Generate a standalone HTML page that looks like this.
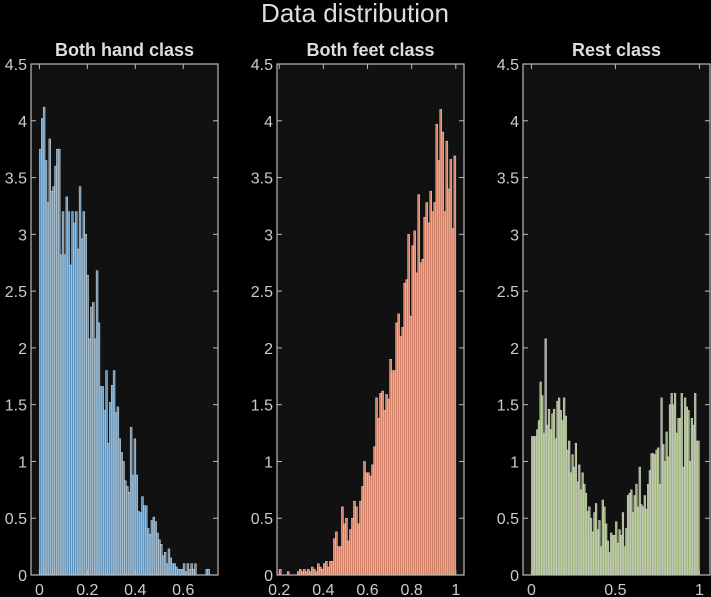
<!DOCTYPE html>
<html><head><meta charset="utf-8"><style>
html,body{margin:0;padding:0;background:#000;overflow:hidden;width:711px;height:597px;}
svg{display:block;}
svg text{font-family:"Liberation Sans",sans-serif;}
</style></head><body>
<svg id="chart" width="711" height="597" xmlns="http://www.w3.org/2000/svg">
<rect width="711" height="597" fill="#000"/>
<text x="355" y="22" text-anchor="middle" font-size="26" fill="#ddd">Data distribution</text>
</svg>
<script>
const titles = ["Both hand class","Both feet class","Rest class"];
const handValues = [3.75,4.02,4.12,3.65,3.28,3.84,3.38,3.42,3.6,3.75,3.75,2.82,3.2,2.82,3.33,3.2,2.73,3.2,3.1,3.2,2.87,3.42,2.96,3.2,3.0,2.64,2.08,2.36,2.4,2.08,2.68,2.22,1.66,1.66,1.45,1.8,1.16,1.52,1.67,1.8,1.43,1.48,1.2,1.08,1.0,0.83,0.78,0.73,1.3,0.88,1.2,0.88,0.56,0.55,0.69,0.61,0.61,0.41,0.36,0.48,0.51,0.47,0.37,0.31,0.27,0.17,0.2,0.1,0.23,0.15,0.1,0.1,0.07,0.05,0.05,0.05,0.1,0.03,0.1,0.05,0.1,0.05,0.1,0,0,0,0,0,0.05,0.05];
const feetValues = [0.05,0,0,0,0.03,0,0,0,0,0.03,0.05,0.03,0.05,0.03,0.05,0.03,0.07,0.05,0.03,0.1,0.07,0.05,0.1,0.12,0.07,0.12,0.12,0.32,0.38,0.25,0.25,0.6,0.45,0.5,0.3,0.4,0.5,0.65,0.6,0.45,0.65,0.78,1.0,0.9,0.9,0.87,0.97,1.13,1.56,1.38,1.6,1.62,1.45,1.59,1.55,1.9,1.8,1.8,2.22,2.3,2.1,2.18,2.57,2.6,3.0,2.28,2.9,3.03,2.66,3.35,2.75,2.78,3.15,3.28,3.1,3.38,3.2,3.28,3.97,3.65,4.1,3.9,3.2,3.82,3.4,3.66,3.05,3.69];
const restValues = [1.22,1.22,1.22,1.28,1.36,1.7,1.58,1.25,2.08,1.32,1.46,1.28,1.42,1.46,1.2,1.53,1.56,1.45,1.36,1.56,1.4,1.1,1.18,0.9,1.06,0.95,1.16,0.82,0.97,0.75,0.9,0.8,0.72,0.56,0.6,0.5,0.38,0.55,0.63,0.4,0.48,0.25,0.66,0.6,0.45,0.3,0.2,0.37,0.35,0.35,0.47,0.28,0.4,0.35,0.55,0.25,0.41,0.7,0.72,0.75,0.55,0.7,0.8,0.6,0.95,0.62,0.6,0.7,0.58,0.8,0.92,1.07,1.07,1.06,1.1,1.12,0.8,1.56,1.15,1.0,1.26,1.04,1.5,1.6,1.5,1.6,1.25,1.38,1.38,1.6,0.95,1.56,1.48,1.45,1.0,1.38,1.32,1.6,1.18,1.18];
const dataRanges = [[0,0.71],[0.2,1.0],[0,1.0]];
const xDomains = [[-0.035,0.745],[0.19,1.037],[-0.05,1.063]];
const xTickVals = [[0,0.2,0.4,0.6],[0.2,0.4,0.6,0.8,1],[0,0.5,1]];
const xTickLabels = [["0","0.2","0.4","0.6"],["0.2","0.4","0.6","0.8","1"],["0","0.5","1"]];
const yTickVals = [0,0.5,1,1.5,2,2.5,3,3.5,4,4.5];
const yTickLabels = ["0","0.5","1","1.5","2","2.5","3","3.5","4","4.5"];
const series = [handValues, feetValues, restValues];
const colors = ["#5f92ba","#d08066","#9cb37a"];
const panels = [[31,218],[277,464],[523,710]];
const plotTop=64, plotBottom=575, yMax=4.5;
const NS="http://www.w3.org/2000/svg";
const svgEl=document.getElementById('chart');
function mk(tag,attrs,parent){const e=document.createElementNS(NS,tag);for(const k in attrs)e.setAttribute(k,attrs[k]);(parent||svgEl).appendChild(e);return e;}
function yScale(v){return plotBottom-(v/yMax)*(plotBottom-plotTop);}
for(let p=0;p<3;p++){
  const L=panels[p][0], R=panels[p][1];
  const d0=xDomains[p][0], d1=xDomains[p][1];
  const xs=v=>L+(v-d0)/(d1-d0)*(R-L);
  const g=mk('g',{});
  
  
  const bg=mk('rect',{x:L,y:plotTop,width:R-L,height:plotBottom-plotTop,fill:'#111'},g);
  
  
  const vals=series[p];
  const r0=dataRanges[p][0], r1=dataRanges[p][1];
  const w=(r1-r0)/vals.length;
  vals.forEach((v,i)=>{
    const x0=xs(r0+i*w), x1=xs(r0+(i+1)*w);
    const b=mk('rect',{x:x0,y:yScale(v),width:Math.max(x1-x0,0.3),height:plotBottom-yScale(v),fill:colors[p],stroke:'#dcdcdc','stroke-width':0.5},g);
    
    
  });
  const fr=mk('rect',{x:L,y:plotTop,width:R-L,height:plotBottom-plotTop,fill:'none',stroke:'#bbb','stroke-width':1.2},g);
  
  
  yTickVals.forEach((v,i)=>{
    const y=yScale(v);
    mk('line',{x1:L,x2:L+5,y1:y,y2:y,stroke:'#bbb'},g);
    mk('line',{x1:R,x2:R-5,y1:y,y2:y,stroke:'#bbb'},g);
    const t=mk('text',{x:L-4,y:y+6,'text-anchor':'end','font-size':16,fill:'#ccc'},g);
    t.textContent=yTickLabels[i];
    
    
  });
  xTickVals[p].forEach((v,i)=>{
    const x=xs(v);
    mk('line',{x1:x,x2:x,y1:plotBottom,y2:plotBottom-5,stroke:'#bbb'},g);
    mk('line',{x1:x,x2:x,y1:plotTop,y2:plotTop+5,stroke:'#bbb'},g);
    const t=mk('text',{x:x,y:plotBottom+20,'text-anchor':'middle','font-size':16,fill:'#ccc'},g);
    t.textContent=xTickLabels[p][i];
    
    
  });
  const tt=mk('text',{x:(L+R)/2,y:56,'text-anchor':'middle','font-size':18,'font-weight':'bold',fill:'#ddd'},g);
  tt.textContent=titles[p];
  
  
}
</script>
</body></html>
